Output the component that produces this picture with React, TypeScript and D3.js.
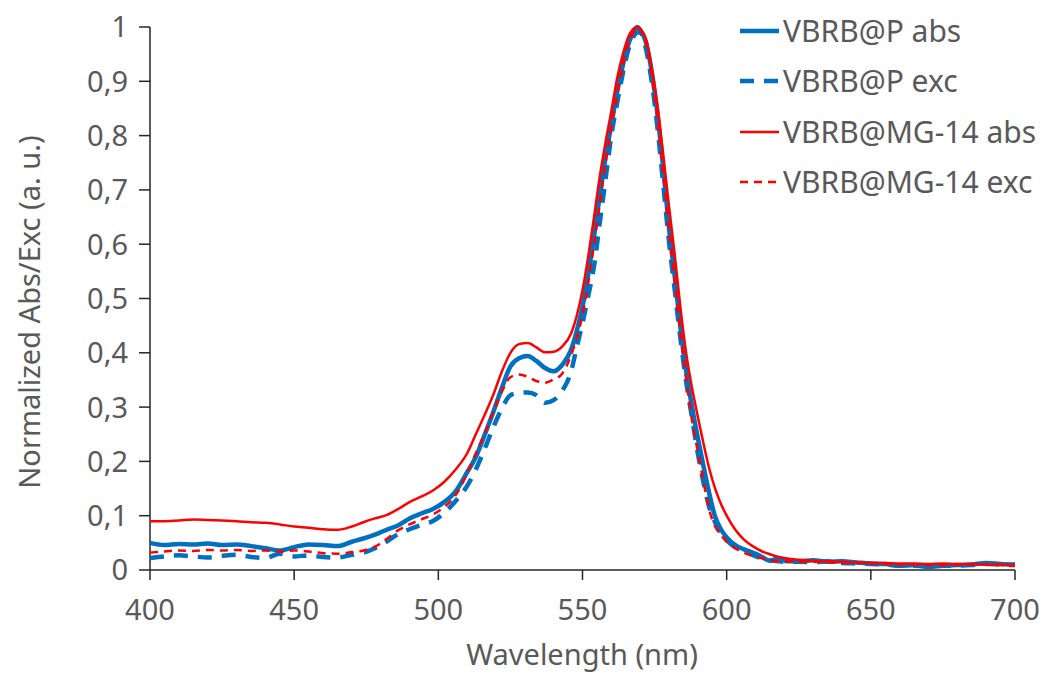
import React from "react";
import * as d3 from "d3";

const wavelengths = [
  400, 405, 410, 415, 420, 425, 430, 435, 440, 445, 450, 455, 460, 465, 470,
  474, 478, 482, 486, 490, 494, 498, 502, 506, 510,
  513, 516, 519, 522, 525, 528, 531, 534, 537, 540, 543,
  546, 548, 550, 552, 554, 556, 558, 560, 562, 564, 566, 568, 569,
  570, 572, 574, 576, 578, 580, 582, 584, 586, 588, 590, 592, 594, 596, 598, 600,
  603, 606, 609, 612, 615, 618, 621,
  625, 630, 635, 640, 645, 650, 655, 660, 665, 670, 675, 680, 685, 690, 695, 700,
];

const vbrbPAbs = [
  0.050, 0.046, 0.048, 0.047, 0.049, 0.046, 0.047, 0.044, 0.040, 0.036, 0.042, 0.047, 0.046, 0.044, 0.052,
  0.058, 0.065, 0.074, 0.082, 0.095, 0.104, 0.112, 0.125, 0.145, 0.180,
  0.208, 0.248, 0.290, 0.335, 0.375, 0.390, 0.394, 0.385, 0.372, 0.366, 0.378,
  0.405, 0.440, 0.485, 0.545, 0.615, 0.690, 0.760, 0.820, 0.880, 0.930, 0.970, 0.993, 1.0,
  0.995, 0.972, 0.918, 0.840, 0.740, 0.630, 0.540, 0.445, 0.365, 0.300, 0.243, 0.190, 0.140, 0.098, 0.075, 0.060,
  0.046, 0.038, 0.032, 0.025, 0.017, 0.022, 0.016,
  0.016, 0.018, 0.015, 0.016, 0.014, 0.012, 0.011, 0.008, 0.009, 0.006, 0.008, 0.009, 0.010, 0.013, 0.011, 0.010,
];

const vbrbPExc = [
  0.022, 0.025, 0.027, 0.025, 0.023, 0.026, 0.028, 0.024, 0.022, 0.030, 0.025, 0.027, 0.024, 0.023, 0.028,
  0.032, 0.040, 0.052, 0.066, 0.075, 0.083, 0.090, 0.105, 0.127, 0.155,
  0.185, 0.222, 0.262, 0.297, 0.322, 0.326, 0.327, 0.322, 0.308, 0.313, 0.330,
  0.365, 0.410, 0.455, 0.505, 0.560, 0.640, 0.720, 0.800, 0.860, 0.915, 0.960, 0.985, 0.990,
  0.990, 0.960, 0.900, 0.815, 0.710, 0.605, 0.515, 0.425, 0.345, 0.280, 0.215, 0.160, 0.115, 0.088, 0.068, 0.055,
  0.042, 0.035, 0.028, 0.022, 0.018, 0.016, 0.015,
  0.015, 0.014, 0.016, 0.013, 0.012, 0.011, 0.010, 0.008, 0.008, 0.007, 0.008, 0.008, 0.009, 0.011, 0.010, 0.009,
];

const vbrbMgAbs = [
  0.090, 0.090, 0.091, 0.093, 0.092, 0.091, 0.090, 0.088, 0.087, 0.084, 0.080, 0.078, 0.075, 0.074, 0.080,
  0.088, 0.095, 0.101, 0.112, 0.125, 0.135, 0.146, 0.162, 0.185, 0.215,
  0.250, 0.285, 0.322, 0.365, 0.400, 0.416, 0.418, 0.410, 0.401, 0.402, 0.412,
  0.435, 0.468, 0.515, 0.578, 0.650, 0.725, 0.788, 0.845, 0.905, 0.950, 0.983, 0.998, 1.0,
  0.996, 0.978, 0.925, 0.855, 0.765, 0.670, 0.580, 0.482, 0.398, 0.335, 0.282, 0.232, 0.186, 0.150, 0.122, 0.100,
  0.074, 0.056, 0.044, 0.035, 0.029, 0.024, 0.021,
  0.019, 0.017, 0.016, 0.015, 0.014, 0.013, 0.013, 0.012, 0.012, 0.011, 0.012, 0.011, 0.011, 0.010, 0.010, 0.009,
];

const vbrbMgExc = [
  0.032, 0.034, 0.036, 0.035, 0.037, 0.036, 0.037, 0.035, 0.036, 0.034, 0.036, 0.034, 0.031, 0.030, 0.033,
  0.036, 0.043, 0.057, 0.073, 0.084, 0.093, 0.102, 0.116, 0.138, 0.178,
  0.215, 0.250, 0.290, 0.328, 0.355, 0.360, 0.356, 0.348, 0.345, 0.351, 0.362,
  0.395, 0.428, 0.470, 0.530, 0.600, 0.675, 0.750, 0.815, 0.875, 0.930, 0.970, 0.993, 1.0,
  0.995, 0.970, 0.910, 0.830, 0.730, 0.625, 0.530, 0.435, 0.350, 0.275, 0.218, 0.162, 0.110, 0.080, 0.065, 0.052,
  0.040, 0.032, 0.026, 0.022, 0.018, 0.016, 0.016,
  0.015, 0.015, 0.014, 0.013, 0.013, 0.012, 0.011, 0.010, 0.010, 0.009, 0.009, 0.009, 0.010, 0.010, 0.009, 0.008,
];

const xTicks = [400, 450, 500, 550, 600, 650, 700];
const yTicks = [0, 0.1, 0.2, 0.3, 0.4, 0.5, 0.6, 0.7, 0.8, 0.9, 1];

const seriesNames = ["VBRB@P abs", "VBRB@P exc", "VBRB@MG-14 abs", "VBRB@MG-14 exc"];

const W = 1043;
const H = 675;
const FONT = "'Noto Sans', 'Open Sans', sans-serif";

export default function App() {
  const x = d3.scaleLinear().domain([400, 700]).range([150, 1015]);
  const y = d3.scaleLinear().domain([0, 1]).range([570, 27]);

  const series = [
    { name: seriesNames[0], values: vbrbPAbs, color: "#0070C0", width: 4.5, dash: "none" },
    { name: seriesNames[1], values: vbrbPExc, color: "#0070C0", width: 4.5, dash: "14,10" },
    { name: seriesNames[2], values: vbrbMgAbs, color: "#FF0000", width: 2.5, dash: "none" },
    { name: seriesNames[3], values: vbrbMgExc, color: "#FF0000", width: 2.5, dash: "8,6" },
  ];

  const line = d3
    .line<[number, number]>()
    .x((d) => x(d[0]))
    .y((d) => y(d[1]))
    .curve(d3.curveMonotoneX);

  const fmt = (v: number) => (v === 0 || v === 1 ? String(v) : v.toFixed(1).replace(".", ","));

  const legendY = [31, 81, 132, 182];

  return (
    <svg
      width={W}
      height={H}
      style={{ position: "absolute", left: 0, top: 0, background: "#fff" }}
      fontFamily={FONT}
    >
      <rect x={0} y={0} width={W} height={H} fill="#fff" />
      <line x1={150} x2={150} y1={y(1)} y2={y(0)} stroke="#262626" strokeWidth={1.5} />
      <line x1={150} x2={1015} y1={y(0)} y2={y(0)} stroke="#262626" strokeWidth={1.5} />
      {yTicks.map((t) => (
        <g key={"y" + t}>
          <line x1={139} x2={150} y1={y(t)} y2={y(t)} stroke="#262626" strokeWidth={1.5} />
          <text x={128} y={y(t)} dy="0.36em" textAnchor="end" fontSize={29} fill="#595959">
            {fmt(t)}
          </text>
        </g>
      ))}
      {xTicks.map((t) => (
        <g key={"x" + t}>
          <line x1={x(t)} x2={x(t)} y1={y(0)} y2={y(0) + 10} stroke="#262626" strokeWidth={1.5} />
          <text x={x(t)} y={620} textAnchor="middle" fontSize={29} fill="#595959">
            {t}
          </text>
        </g>
      ))}
      <text x={582} y={665} textAnchor="middle" fontSize={29} fill="#595959">
        Wavelength (nm)
      </text>
      <text
        transform={`translate(40,${312}) rotate(-90)`}
        textAnchor="middle"
        fontSize={29}
        fill="#595959"
      >
        Normalized Abs/Exc (a. u.)
      </text>
      {series.map((s) => (
        <path
          key={s.name}
          d={line(wavelengths.map((w, i) => [w, s.values[i]] as [number, number])) || ""}
          fill="none"
          stroke={s.color}
          strokeWidth={s.width}
          strokeDasharray={s.dash}
          strokeLinejoin="round"
        />
      ))}
      {series.map((s, i) => (
        <g key={"leg" + i}>
          <line
            x1={740}
            x2={779}
            y1={legendY[i]}
            y2={legendY[i]}
            stroke={s.color}
            strokeWidth={s.width}
            strokeDasharray={s.dash}
          />
          <text x={783} y={legendY[i]} dy="0.36em" fontSize={30} fill="#595959">
            {s.name}
          </text>
        </g>
      ))}
    </svg>
  );
}
